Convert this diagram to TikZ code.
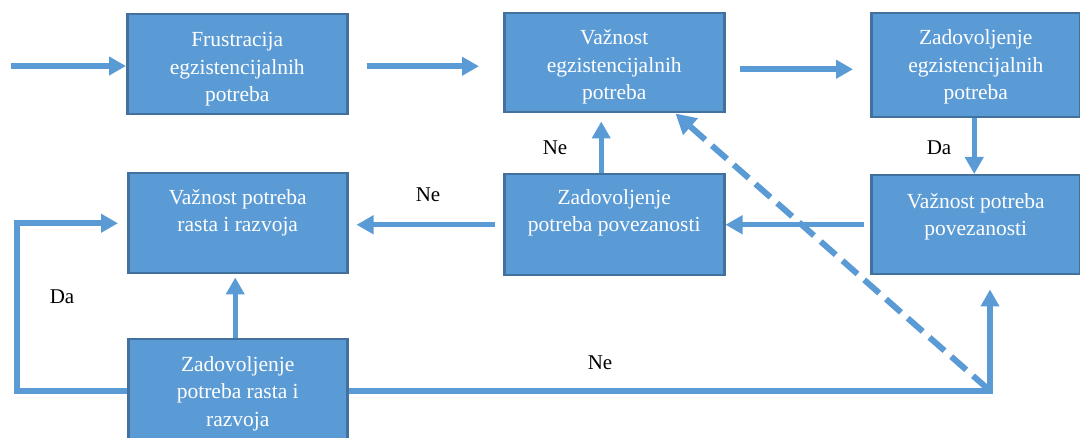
\documentclass[tikz,border=0pt]{standalone}
\usepackage{fontspec}
\setmainfont{Liberation Serif}
\usetikzlibrary{arrows.meta}
\definecolor{boxfill}{HTML}{5B9BD5}
\definecolor{boxline}{HTML}{41719C}
\definecolor{arrowc}{HTML}{5B9BD5}
\begin{document}
\begin{tikzpicture}[x=1pt,y=-1pt,
  box/.style={rectangle, draw=boxline, line width=2.5pt, fill=boxfill, anchor=north west, inner sep=0pt},
  txt/.style={text=white, font=\fontsize{21.5}{27.5}\selectfont, align=center, anchor=north, inner sep=0pt},
  lbl/.style={text=black, font=\fontsize{21}{25}\selectfont, inner sep=0pt},
  arr/.style={draw=arrowc, line width=5.5pt, -{Triangle[length=17pt,width=18pt]}},
  dasharr/.style={draw=arrowc, line width=6pt, dash pattern=on 20pt off 9pt, -{Triangle[length=20pt,width=21pt]}}]
\useasboundingbox (0,0) rectangle (1080,438);

% boxes
\node[box, minimum width=220pt, minimum height=100pt] (b1) at (126,13) {};
\node[box, minimum width=220pt, minimum height=99pt]  (b2) at (503,12) {};
\node[box, minimum width=209pt, minimum height=104pt] (b3) at (870,12) {};
\node[box, minimum width=209pt, minimum height=99pt]  (b4) at (870,174) {};
\node[box, minimum width=220pt, minimum height=101pt] (b5) at (503,173) {};
\node[box, minimum width=219pt, minimum height=100pt] (b6) at (127,172) {};
\node[box, minimum width=219pt, minimum height=104pt] (b7) at (127,338) {};

% texts
\node[txt] (t1) at ([yshift=-19.5pt]b1.north) {Frustracija\\egzistencijalnih\\potreba};
\node[txt] (t2) at ([yshift=-17.5pt]b2.north) {Važnost\\egzistencijalnih\\potreba};
\node[txt] (t3) at ([yshift=-17.5pt]b3.north) {Zadovoljenje\\egzistencijalnih\\potreba};
\node[txt] (t4) at ([yshift=-19pt]b4.north) {Važnost potreba\\povezanosti};
\node[txt] (t5) at ([yshift=-16pt]b5.north) {Zadovoljenje\\potreba povezanosti};
\node[txt] (t6) at ([yshift=-17pt]b6.north) {Važnost potreba\\rasta i razvoja};
\node[txt] (t7) at ([yshift=-18pt]b7.north) {Zadovoljenje\\potreba rasta i\\razvoja};

% labels
\node[lbl] (l1) at (555,148) {Ne};
\node[lbl] (l2) at (939,148) {Da};
\node[lbl] (l3) at (428,195) {Ne};
\node[lbl] (l4) at (62,297) {Da};
\node[lbl] (l5) at (600,363) {Ne};

% helper coordinates
\coordinate (in) at (11,66);
\coordinate (lc) at (17,0);
\coordinate (rc) at (990,0);
\coordinate (dstart) at (988,389);

% connectors
\draw[arr] (in) -- (in -| b1.west);
\draw[arr, shorten <=18pt, shorten >=24pt] ([shift={(0,2)}]b1.east) -- ([shift={(0,2)}]b1.east -| b2.west);
\draw[arr, shorten <=14pt, shorten >=17pt] ([shift={(0,6.5)}]b2.east) -- ([shift={(0,6.5)}]b2.east -| b3.west);
\draw[arr] ([xshift=-1.5pt]b3.south) -- ([xshift=-1.5pt]b3.south |- b4.north);
\draw[arr, shorten <=6pt] (b4.west) -- (b4.west -| b5.east);
\draw[arr, shorten <=8pt, shorten >=8pt] (b5.west) -- (b5.west -| b6.east);
\draw[arr, shorten >=8pt] ([xshift=-13pt]b5.north) -- ([xshift=-13pt]b5.north |- b2.south);
\draw[arr, shorten >=3pt] ([xshift=-2.5pt]b7.north) -- ([xshift=-2.5pt]b7.north |- b6.south);
\draw[arr, shorten >=9pt] (b7.west) -| (lc |- b6.west) -- (b6.west);
\draw[arr, shorten >=14pt] (b7.east) -| (rc |- b4.south);
\draw[dasharr] (dstart) -- ([xshift=-50pt]b2.south east);
\end{tikzpicture}
\end{document}
